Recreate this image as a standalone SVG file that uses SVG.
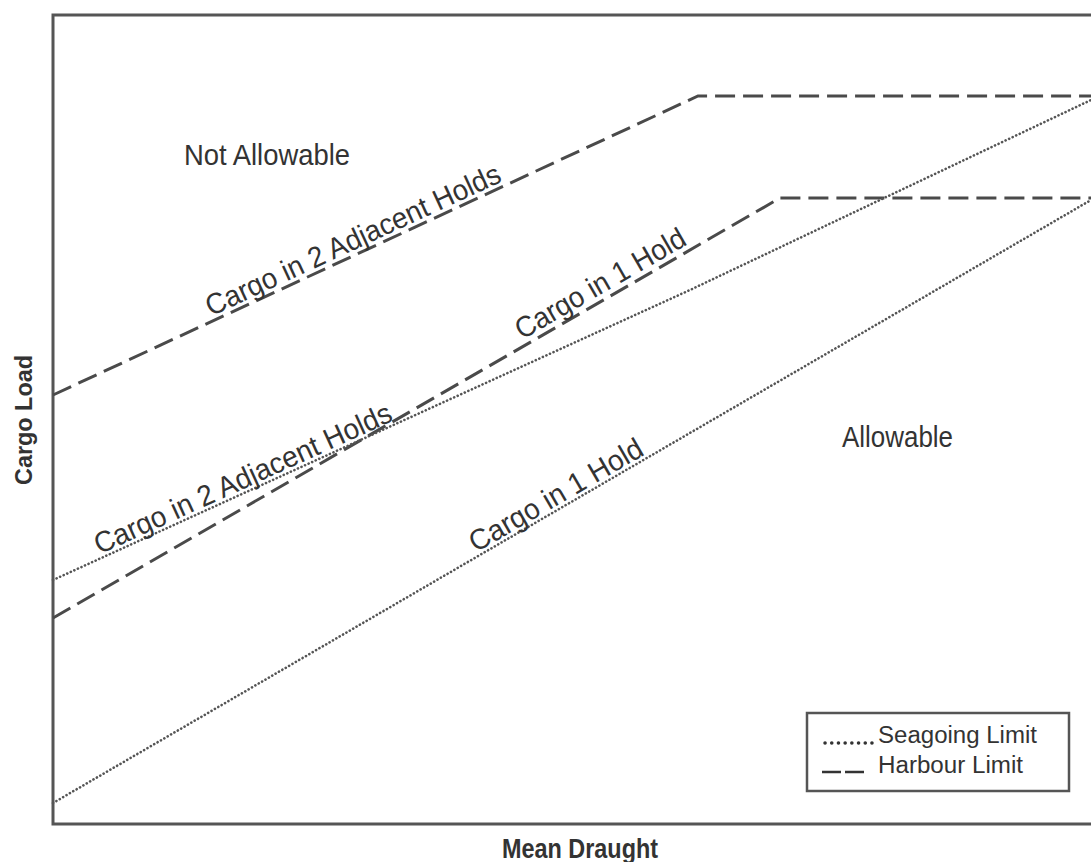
<svg xmlns="http://www.w3.org/2000/svg" width="1091" height="862" viewBox="0 0 1091 862">
<style>
.frame{fill:none;stroke:#555;stroke-width:3}
.harbour{fill:none;stroke:#4a4a4a;stroke-width:3;stroke-dasharray:20 8}
.seagoing{fill:none;stroke:#555;stroke-width:2.6;stroke-dasharray:0.1 3.8;stroke-linecap:round}
.lbl{font-family:"Liberation Sans",Arial,sans-serif;fill:#333}
.axis{font-family:"Liberation Sans",Arial,sans-serif;font-weight:bold;fill:#333}
</style>
<rect width="1091" height="862" fill="#fff"/>
<g id="frame">
<rect class="frame" x="53" y="15" width="1060" height="809"/>
</g>
<g id="connectors">
<polyline id="harbour-2-adjacent" class="harbour" points="53,395 698,96 1091,96"/>
<polyline id="harbour-1-hold" class="harbour" points="53,618 780,198 1091,198"/>
<polyline id="seagoing-2-adjacent" class="seagoing" points="53,580 690,290 1091,100"/>
<polyline id="seagoing-1-hold" class="seagoing" points="53,803 1091,200"/>
</g>
<g id="region-not-allowable" transform="translate(184,165) scale(1,1.15)">
<text class="lbl" x="0" y="0" font-size="26" textLength="166" lengthAdjust="spacingAndGlyphs">Not Allowable</text>
</g>
<g id="region-allowable" transform="translate(842,447) scale(1,1.15)">
<text class="lbl" x="0" y="0" font-size="26" textLength="111" lengthAdjust="spacingAndGlyphs">Allowable</text>
</g>
<g id="label-harbour-2-adjacent" transform="translate(213,321) rotate(-24.87) scale(1,1.12)">
<text class="lbl" x="0" y="-4.5" font-size="26" textLength="322" lengthAdjust="spacingAndGlyphs">Cargo in 2 Adjacent Holds</text>
</g>
<g id="label-harbour-1-hold" transform="translate(525,345.3) rotate(-30) scale(1,1.12)">
<text class="lbl" x="0" y="-5.5" font-size="26" textLength="192" lengthAdjust="spacingAndGlyphs">Cargo in 1 Hold</text>
</g>
<g id="label-seagoing-2-adjacent" transform="translate(101,558.1) rotate(-24.48) scale(1,1.12)">
<text class="lbl" x="0" y="-3.5" font-size="26" textLength="324" lengthAdjust="spacingAndGlyphs">Cargo in 2 Adjacent Holds</text>
</g>
<g id="label-seagoing-1-hold" transform="translate(478,556.1) rotate(-30.15) scale(1,1.12)">
<text class="lbl" x="0" y="-3.5" font-size="26" textLength="196" lengthAdjust="spacingAndGlyphs">Cargo in 1 Hold</text>
</g>
<g id="axis-y">
<text class="axis" transform="translate(32,420) rotate(-90)" text-anchor="middle" font-size="23" textLength="130" lengthAdjust="spacingAndGlyphs">Cargo Load</text>
</g>
<g id="axis-x" transform="translate(580,858) scale(1,1.15)">
<text class="axis" x="0" y="0" text-anchor="middle" font-size="24" textLength="156" lengthAdjust="spacingAndGlyphs">Mean Draught</text>
</g>
<g id="legend">
<rect x="807" y="713" width="262" height="78" fill="#fff" stroke="#555" stroke-width="2.5"/>
<line x1="825" y1="743" x2="875" y2="743" stroke="#333" stroke-width="3.5" stroke-dasharray="0.1 6.6" stroke-linecap="round"/>
<line x1="822" y1="772" x2="864" y2="772" stroke="#333" stroke-width="2.5" stroke-dasharray="19 4"/>
<g transform="translate(878,743) scale(1,1.12)">
<text class="lbl" x="0" y="0" font-size="22" textLength="159" lengthAdjust="spacingAndGlyphs">Seagoing Limit</text>
</g>
<g transform="translate(878,773) scale(1,1.12)">
<text class="lbl" x="0" y="0" font-size="22" textLength="145" lengthAdjust="spacingAndGlyphs">Harbour Limit</text>
</g>
</g>
</svg>
